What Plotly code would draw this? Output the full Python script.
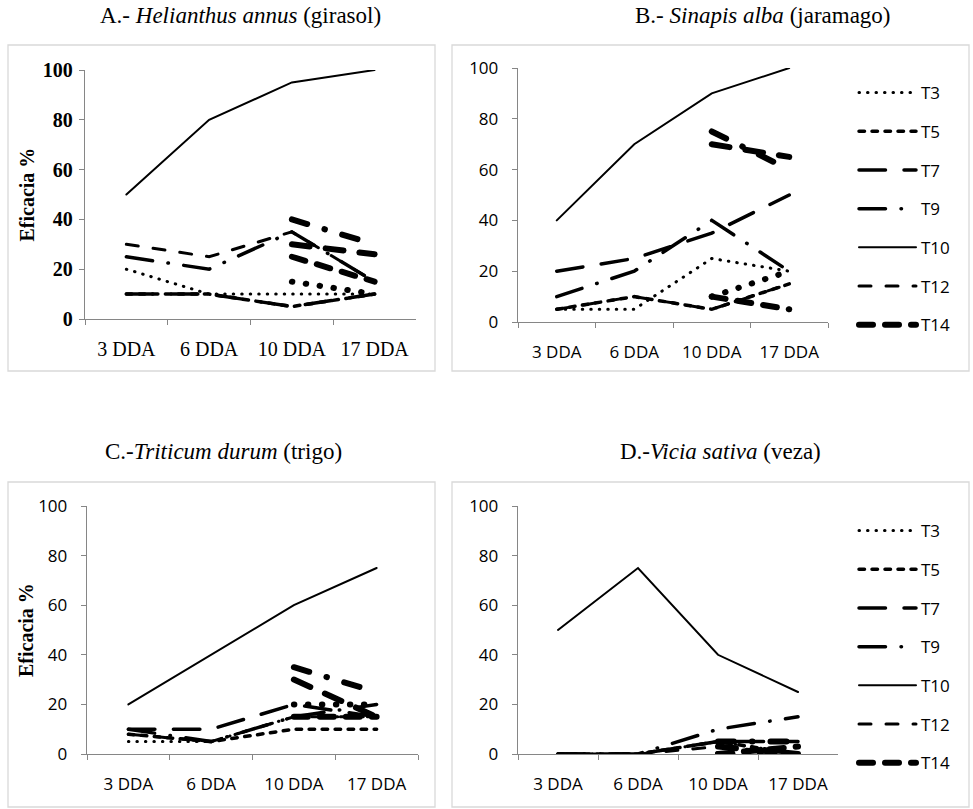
import plotly.graph_objects as go

categories = ["3 DDA", "6 DDA", "10 DDA", "17 DDA"]
y_ticks = [0, 20, 40, 60, 80, 100]

legend_series = ["T3", "T5", "T7", "T9", "T10", "T12", "T14"]
extra_series = ["E1", "E2", "E3"]  # unlabeled thick series (only 10 and 17 DDA)

# A.- Helianthus annus (girasol)
girasol = {
    "T3": [20, 10, 10, 10],
    "T5": [10, 10, 5, 10],
    "T7": [10, 10, 5, 10],
    "T9": [25, 20, 35, 15],
    "T10": [50, 80, 95, 100],
    "T12": [30, 25, 35, 15],
    "T14": [None, None, 25, 15],
    "E1": [None, None, 40, 30],
    "E2": [None, None, 30, 26],
    "E3": [None, None, 15, 10],
}
# B.- Sinapis alba (jaramago)
jaramago = {
    "T3": [5, 5, 25, 20],
    "T5": [5, 10, 5, 15],
    "T7": [20, 25, 35, 50],
    "T9": [10, 20, 40, 20],
    "T10": [40, 70, 90, 100],
    "T12": [5, 10, 5, 15],
    "T14": [None, None, 10, 5],
    "E1": [None, None, 75, 60],
    "E2": [None, None, 70, 65],
    "E3": [None, None, 10, 20],
}
# C.- Triticum durum (trigo)
trigo = {
    "T3": [5, 5, 15, 15],
    "T5": [8, 5, 10, 10],
    "T7": [10, 10, 20, 15],
    "T9": [10, 5, 15, 20],
    "T10": [20, 40, 60, 75],
    "T12": [8, 5, 15, 15],
    "T14": [None, None, 15, 15],
    "E1": [None, None, 35, 25],
    "E2": [None, None, 30, 15],
    "E3": [None, None, 20, 20],
}
# D.- Vicia sativa (veza)
veza = {
    "T3": [0, 0, 5, 0],
    "T5": [0, 0, 5, 0],
    "T7": [0, 0, 5, 5],
    "T9": [0, 0, 10, 15],
    "T10": [50, 75, 40, 25],
    "T12": [0, 0, 3, 0],
    "T14": [None, None, 0, 3],
    "E1": [None, None, 5, 5],
    "E2": [None, None, 3, 0],
    "E3": [None, None, 0, 0],
}

# dash patterns are meant for round line caps (applied after drawing)
styles = {
    "T3": dict(width=3, dash="0.5px,8px"),
    "T5": dict(width=3.5, dash="5.5px,7.5px"),
    "T7": dict(width=3.5, dash="26.5px,18.5px"),
    "T9": dict(width=3.5, dash="26.5px,15.5px,0.5px,15.5px"),
    "T10": dict(width=2, dash="solid"),
    "T12": dict(width=3, dash="12px,15px"),
    "T14": dict(width=6, dash="14px,12px"),
    "E1": dict(width=6, dash="16px,18px,0.5px,18px"),
    "E2": dict(width=6, dash="18px,16px"),
    "E3": dict(width=6, dash="0.5px,13.5px"),
}

W, H = 973, 809


def px_x(p):
    return p / W


def px_y(p):
    return 1 - p / H


panels = [
    dict(data=girasol, x0=85, x1=416, ytop=70, ybot=319, legend=None, serif=True,
         title="A.- <i>Helianthus annus</i> (girasol)", tx=240, ty=16,
         box=(8, 45, 435, 371), ylabel=True),
    dict(data=jaramago, x0=518, x1=828, ytop=68, ybot=322, legend="legend", serif=False,
         title="B.- <i>Sinapis alba</i> (jaramago)", tx=763, ty=16,
         box=(452, 45, 969, 371), ylabel=False),
    dict(data=trigo, x0=87, x1=418, ytop=506, ybot=754, legend=None, serif=False,
         title="C.-<i>Triticum durum</i> (trigo)", tx=223, ty=452,
         box=(8, 482, 435, 807), ylabel=True),
    dict(data=veza, x0=518, x1=838, ytop=506, ybot=754, legend="legend2", serif=False,
         title="D.-<i>Vicia sativa</i> (veza)", tx=720, ty=452,
         box=(452, 482, 969, 807), ylabel=False),
]

fig = go.Figure()
annotations = []
shapes = []
axis_color = "#868686"

for i, p in enumerate(panels):
    n = "" if i == 0 else str(i + 1)
    xa, ya = "x" + n, "y" + n
    for s in legend_series + extra_series:
        show = p["legend"] is not None and s in legend_series
        fig.add_trace(go.Scatter(
            x=categories, y=p["data"][s], mode="lines", name=s,
            line=dict(color="black", **styles[s]),
            xaxis=xa, yaxis=ya, connectgaps=False,
            showlegend=show, legend=p["legend"] if show else None,
            legendgroup=(p["legend"] or "") + s,
            hoverinfo="skip",
        ))
    if p["serif"]:
        yfont = dict(family="Liberation Serif", size=20, color="black", weight="bold")
        xfont = dict(family="Liberation Serif", size=20, color="black")
        ystand, xstand = 2, 12
    else:
        yfont = dict(family="Open Sans", size=17, color="black")
        xfont = dict(family="Open Sans", size=17, color="black")
        ystand, xstand = 10, 14
    fig.layout["xaxis" + n] = dict(
        domain=[px_x(p["x0"]), px_x(p["x1"])], anchor=ya, type="category",
        range=[-0.5, 3.5], tickson="boundaries", ticks="outside", ticklen=5,
        tickcolor=axis_color, showline=True, linecolor=axis_color, linewidth=1.3,
        showgrid=False, zeroline=False, tickfont=xfont, ticklabelstandoff=xstand,
        fixedrange=True, automargin=False,
    )
    fig.layout["yaxis" + n] = dict(
        domain=[px_y(p["ybot"]), px_y(p["ytop"])], anchor=xa, range=[0, 100],
        tickvals=y_ticks, ticks="outside", ticklen=5, tickcolor=axis_color,
        showline=True, linecolor=axis_color, linewidth=1.3, showgrid=False,
        zeroline=False, tickfont=yfont, ticklabelstandoff=ystand, fixedrange=True,
        automargin=False,
    )
    annotations.append(dict(
        text=p["title"], x=px_x(p["tx"]), y=px_y(p["ty"]), xref="paper", yref="paper",
        showarrow=False, xanchor="center", yanchor="middle",
        font=dict(family="Liberation Serif", size=23, color="black"),
    ))
    bx0, by0, bx1, by1 = p["box"]
    shapes.append(dict(type="rect", xref="paper", yref="paper",
                       x0=px_x(bx0), x1=px_x(bx1), y0=px_y(by1), y1=px_y(by0),
                       line=dict(color="#D9D9D9", width=1.3)))
    if p["ylabel"]:
        cy = (p["ytop"] + p["ybot"]) / 2
        annotations.append(dict(
            text="Eficacia %", x=px_x(26), y=px_y(cy), xref="paper", yref="paper",
            showarrow=False, textangle=-90, xanchor="center", yanchor="middle",
            font=dict(family="Liberation Serif", size=20, color="black", weight="bold"),
        ))

legend_common = dict(
    xanchor="left", yanchor="top", bgcolor="rgba(0,0,0,0)", borderwidth=0,
    font=dict(family="Open Sans", size=17, color="black"),
    itemwidth=57, tracegroupgap=13.6, traceorder="grouped", itemclick=False,
)
fig.update_layout(
    width=W, height=H, margin=dict(l=0, r=0, t=0, b=0, pad=0, autoexpand=False),
    paper_bgcolor="white", plot_bgcolor="white",
    annotations=annotations, shapes=shapes,
    legend=dict(x=px_x(854), y=px_y(75), **legend_common),
    legend2=dict(x=px_x(854), y=px_y(513), **legend_common),
)

page_js = (
    "document.documentElement.style.margin='0';"
    "document.body.style.margin='0';document.body.style.padding='0';"
    "var gd=document.getElementById('{plot_id}');"
    "gd.style.position='fixed';gd.style.left='0px';gd.style.top='0px';"
    "gd.querySelectorAll('path.js-line')"
    ".forEach(function(el){el.style.strokeLinecap='round';});"
)
fig.write_html("out.html", post_script=page_js,
               config={"displayModeBar": False, "staticPlot": True})
